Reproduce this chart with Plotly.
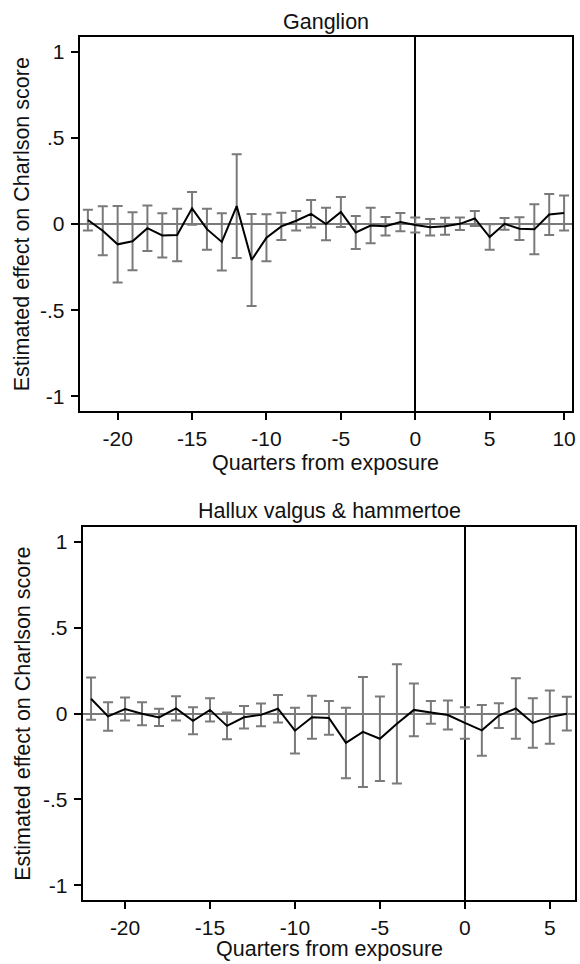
import plotly.graph_objects as go

# ---- Data: Ganglion (top panel) ----
quarters_top = [-22, -21, -20, -19, -18, -17, -16, -15, -14, -13, -12, -11, -10, -9, -8, -7, -6,
                -5, -4, -3, -2, -1, 0, 1, 2, 3, 4, 5, 6, 7, 8, 9, 10]
est_top = [0.023, -0.039, -0.118, -0.100, -0.024, -0.066, -0.064, 0.091, -0.030, -0.104, 0.104,
           -0.209, -0.080, -0.014, 0.019, 0.059, 0.000, 0.070, -0.049, -0.009, -0.013, 0.011,
           -0.006, -0.019, -0.013, 0.001, 0.032, -0.076, 0.001, -0.027, -0.031, 0.055, 0.064]
ci_top = [0.060, 0.142, 0.222, 0.168, 0.132, 0.129, 0.152, 0.095, 0.119, 0.166, 0.301,
          0.267, 0.136, 0.079, 0.056, 0.080, 0.094, 0.087, 0.096, 0.103, 0.053, 0.053,
          0.044, 0.048, 0.049, 0.036, 0.043, 0.074, 0.034, 0.066, 0.145, 0.119, 0.102]

# ---- Data: Hallux valgus & hammertoe (bottom panel) ----
quarters_bot = [-22, -21, -20, -19, -18, -17, -16, -15, -14, -13, -12, -11, -10, -9, -8, -7,
                -6, -5, -4, -3, -2, -1, 0, 1, 2, 3, 4, 5, 6]
est_bot = [0.086, -0.017, 0.026, -0.001, -0.023, 0.030, -0.042, 0.021, -0.072, -0.022, -0.008,
           0.028, -0.100, -0.022, -0.026, -0.171, -0.107, -0.147, -0.060, 0.021, 0.006, -0.009,
           -0.055, -0.098, -0.012, 0.029, -0.055, -0.021, -0.001]
ci_bot = [0.123, 0.083, 0.067, 0.067, 0.050, 0.071, 0.078, 0.068, 0.078, 0.065, 0.066,
          0.080, 0.133, 0.125, 0.098, 0.205, 0.320, 0.246, 0.347, 0.153, 0.066, 0.084,
          0.092, 0.148, 0.072, 0.176, 0.144, 0.155, 0.098]

panel_titles = ["Ganglion", "Hallux valgus & hammertoe"]
x_title = "Quarters from exposure"
y_title = "Estimated effect on Charlson score"
y_tickvals = [-1, -0.5, 0, 0.5, 1]
y_ticktext = ["-1", "-.5", "0", ".5", "1"]
x_tickvals_top = [-20, -15, -10, -5, 0, 5, 10]
x_tickvals_bot = [-20, -15, -10, -5, 0, 5]

W, H = 580, 964
FONT = "Liberation Sans, Arial, sans-serif"
GRAY = "#7a7a7a"
TXT = "#111111"
FS_TICK = 21
FS_TITLE = 21.5

fig = go.Figure()

for xs, ys, es, xa, ya in [(quarters_top, est_top, ci_top, "x", "y"),
                           (quarters_bot, est_bot, ci_bot, "x2", "y2")]:
    fig.add_trace(go.Scatter(
        x=xs, y=ys, mode="markers", marker=dict(size=1, color="rgba(0,0,0,0)"),
        error_y=dict(type="data", array=es, visible=True, color=GRAY, thickness=2, width=5),
        xaxis=xa, yaxis=ya, showlegend=False, hoverinfo="skip"))
    fig.add_trace(go.Scatter(
        x=xs, y=ys, mode="lines", line=dict(color="black", width=2),
        xaxis=xa, yaxis=ya, showlegend=False))

def xaxis_cfg(domain, rng, tickvals, anchor):
    return dict(domain=domain, range=rng, tickvals=tickvals, anchor=anchor,
                ticktext=[str(v) for v in tickvals],
                showline=True, linecolor="black", linewidth=1.5, mirror=True,
                ticks="outside", ticklen=7, tickwidth=1.5, tickcolor="black",
                ticklabelstandoff=1,
                showgrid=False, zeroline=True, zerolinecolor="black", zerolinewidth=1.5,
                tickfont=dict(family=FONT, size=FS_TICK, color=TXT), fixedrange=True)

def yaxis_cfg(domain, rng, anchor):
    return dict(domain=domain, range=rng, tickvals=y_tickvals, ticktext=y_ticktext,
                anchor=anchor,
                showline=True, linecolor="black", linewidth=1.5, mirror=True,
                ticks="outside", ticklen=8, tickwidth=1.5, tickcolor="black",
                ticklabelstandoff=2,
                showgrid=False, zeroline=True, zerolinecolor=GRAY, zerolinewidth=2,
                tickfont=dict(family=FONT, size=FS_TICK, color=TXT), fixedrange=True)

# plot-box pixel extents: (left, right, top, bottom)
top_px = (81, 575.5, 37, 411)
bot_px = (84, 579.3, 527, 900)

def dom_x(p):
    return [p[0] / W, min(p[1] / W, 1.0)]

def dom_y(p):
    return [(H - p[3]) / H, (H - p[2]) / H]

fig.update_layout(
    width=W, height=H, autosize=False,
    margin=dict(l=0, r=0, t=0, b=0, pad=0),
    paper_bgcolor="white", plot_bgcolor="white",
    font=dict(family=FONT, size=FS_TITLE, color=TXT),
    xaxis=xaxis_cfg(dom_x(top_px), [-22.5, 10.5], x_tickvals_top, "y"),
    yaxis=yaxis_cfg(dom_y(top_px), [-1.085, 1.085], "x"),
    xaxis2=xaxis_cfg(dom_x(bot_px), [-22.45, 6.5], x_tickvals_bot, "y2"),
    yaxis2=yaxis_cfg(dom_y(bot_px), [-1.085, 1.085], "x2"),
)

annotations = []
for p, title, title_y, xt_off in [(top_px, panel_titles[0], 22, 52),
                                  (bot_px, panel_titles[1], 511, 49)]:
    cx = (p[0] + p[1]) / 2 / W
    annotations.append(dict(text=title, x=cx, y=1 - title_y / H, xref="paper", yref="paper",
                            showarrow=False, xanchor="center", yanchor="middle",
                            font=dict(family=FONT, size=FS_TITLE, color=TXT)))
    annotations.append(dict(text=x_title, x=cx, y=1 - (p[3] + xt_off) / H, xref="paper",
                            yref="paper", showarrow=False, xanchor="center", yanchor="middle",
                            font=dict(family=FONT, size=FS_TITLE, color=TXT)))
    cy = 1 - (p[2] + p[3]) / 2 / H
    annotations.append(dict(text=y_title, x=22.5 / W, y=cy, xref="paper", yref="paper",
                            showarrow=False, xanchor="center", yanchor="middle", textangle=-90,
                            font=dict(family=FONT, size=FS_TITLE, color=TXT)))
fig.update_layout(annotations=annotations)

fig.write_html("out.html", config={"displayModeBar": False},
               post_script="document.body.style.margin='0px';")
